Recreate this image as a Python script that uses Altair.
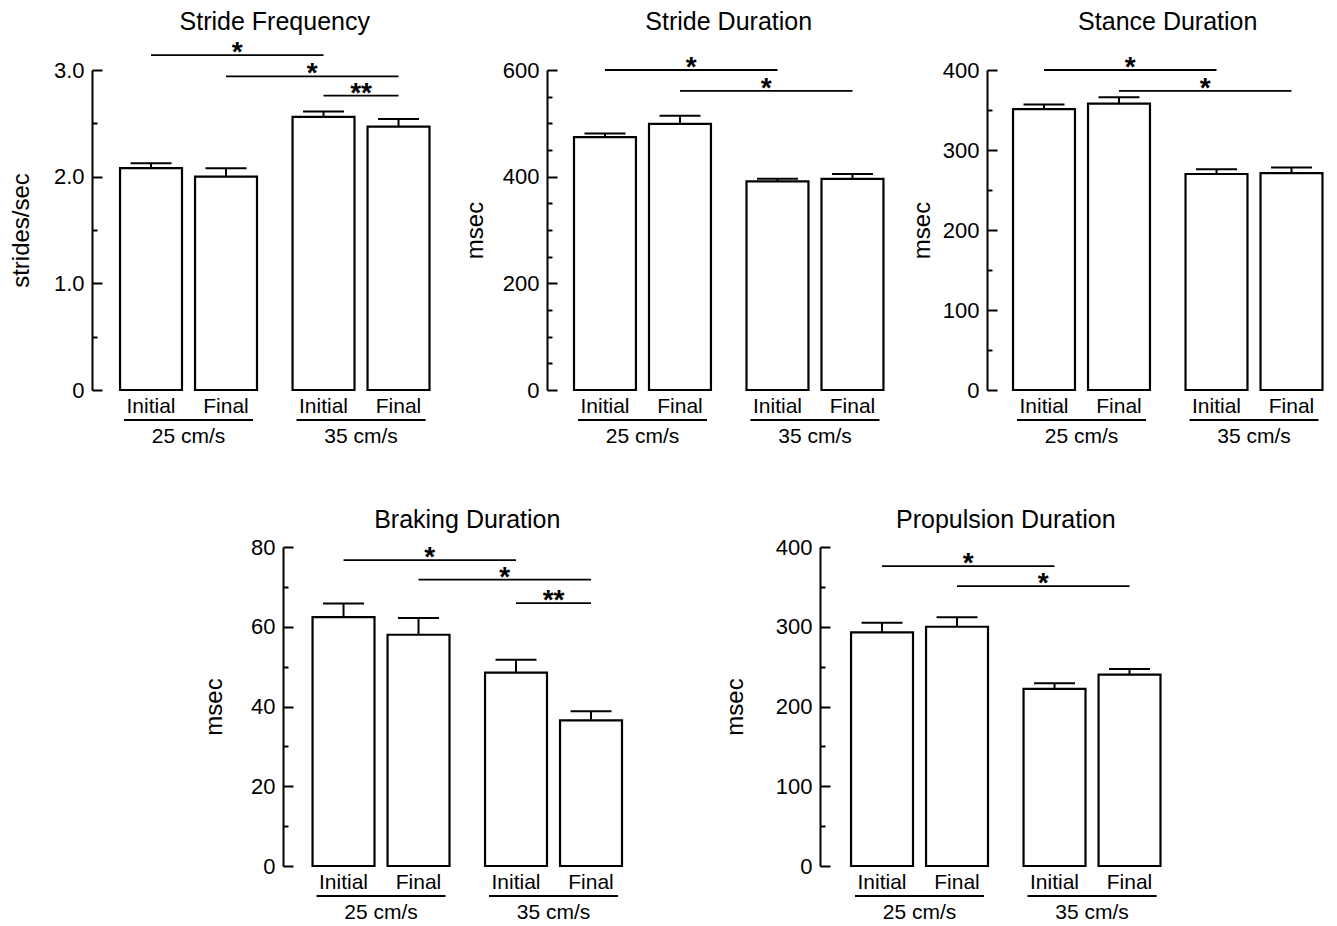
import altair as alt
import pandas as pd

FONT = "Liberation Sans"

# ---------------- data ----------------
SPEEDS = ["25 cm/s", "35 cm/s"]
CONDITIONS = ["Initial", "Final"]

PANEL_TITLES = ["Stride Frequency", "Stride Duration", "Stance Duration",
                "Braking Duration", "Propulsion Duration"]
Y_TITLES = ["strides/sec", "msec", "msec", "msec", "msec"]

# bar order: 25 Initial, 25 Final, 35 Initial, 35 Final
STRIDE_FREQ_MEAN = [2.08, 2.00, 2.56, 2.47]
STRIDE_FREQ_SEM = [0.045, 0.08, 0.05, 0.07]
STRIDE_DUR_MEAN = [474, 499, 391, 396]
STRIDE_DUR_SEM = [7, 15, 5, 9]
STANCE_DUR_MEAN = [351, 358, 270, 271]
STANCE_DUR_SEM = [6, 8, 6, 7]
BRAKING_DUR_MEAN = [62.4, 58.0, 48.5, 36.5]
BRAKING_DUR_SEM = [3.4, 4.2, 3.2, 2.3]
PROPULSION_DUR_MEAN = [293, 300, 222, 240]
PROPULSION_DUR_SEM = [12, 12, 7, 7]

# significance brackets: (from bar, to bar, bracket height, label)
STRIDE_FREQ_SIG = [(0, 2, 3.14, "*"), (1, 3, 2.94, "*"), (2, 3, 2.76, "**")]
STRIDE_DUR_SIG = [(0, 2, 600, "*"), (1, 3, 561, "*")]
STANCE_DUR_SIG = [(0, 2, 400, "*"), (1, 3, 374, "*")]
BRAKING_DUR_SIG = [(0, 2, 76.7, "*"), (1, 3, 71.8, "*"), (2, 3, 65.9, "**")]
PROPULSION_DUR_SIG = [(0, 2, 376, "*"), (1, 3, 351, "*")]

Y_MAX = [3.0, 600, 400, 80, 400]
Y_MAJOR = [1.0, 200, 100, 20, 100]
Y_MINOR = [0.5, 50, 50, 10, 50]

# ---------------- layout ----------------
UNIT_PX = 75          # pixels per bar step
GROUP_STEP = 2.3      # distance between speed groups, in bar steps
X_STARTS = [-0.787, -0.773, -0.76, -0.807, -0.827]
BAR_HALF = 0.413
CAP_HALF = 0.273
UNDERLINE_EXT = 0.36

TOP_W = [395, 380, 340]
TOP_H = 320
BOT_W = [477, 345]
BOT_H = 319
SPACER_W = 131
H_SPACING = 60
V_SPACING = 61
TITLE_YOFF = [-48, -48, -48, -27, -27]
TITLE_PADS = [20, 15, 8, 24, 28]


def tick_values(ymax, step):
    n = int(round(ymax / step))
    return [round(k * step, 6) for k in range(n + 1)]


def make_panel(i, means, sems, sig, width, height, label_expr=None):
    ymax, major, minor = Y_MAX[i], Y_MAJOR[i], Y_MINOR[i]
    x_start = X_STARTS[i]
    pos = [si * GROUP_STEP + ci for si in range(len(SPEEDS)) for ci in range(len(CONDITIONS))]
    bars = pd.DataFrame({
        "speed": [s for s in SPEEDS for _ in CONDITIONS],
        "cond": [c for _ in SPEEDS for c in CONDITIONS],
        "pos": pos,
        "mean": means,
        "sem": sems,
    })
    bars["lo"] = bars["pos"] - BAR_HALF
    bars["hi"] = bars["pos"] + BAR_HALF
    bars["top"] = bars["mean"] + bars["sem"]
    bars["cap_lo"] = bars["pos"] - CAP_HALF
    bars["cap_hi"] = bars["pos"] + CAP_HALF

    groups = bars.groupby("speed", sort=False)["pos"].agg(["min", "max", "mean"]).reset_index()
    groups["ul_lo"] = groups["min"] - UNDERLINE_EXT
    groups["ul_hi"] = groups["max"] + UNDERLINE_EXT
    groups["cx"] = groups["mean"]

    title_df = pd.DataFrame({"title": [PANEL_TITLES[i]], "cx": [bars["pos"].mean()]})

    sig_df = pd.DataFrame({
        "x1": [pos[a] for a, b, lv, t in sig],
        "x2": [pos[b] for a, b, lv, t in sig],
        "level": [lv for a, b, lv, t in sig],
        "label": [t for a, b, lv, t in sig],
    })
    sig_df["xm"] = (sig_df["x1"] + sig_df["x2"]) / 2

    xs = alt.Scale(domain=[x_start, x_start + width / UNIT_PX], nice=False, zero=False)
    ys = alt.Scale(domain=[0, ymax], nice=False, zero=True)

    majors = tick_values(ymax, major)
    all_ticks = tick_values(ymax, minor)

    left_kw = dict(
        orient="left", values=majors, title=Y_TITLES[i], ticks=False, tickSize=0,
        domain=True, domainColor="black", domainWidth=2, grid=False,
        labelFont=FONT, labelFontSize=22, labelColor="black", labelPadding=8,
        titleFont=FONT, titleFontSize=24, titleFontWeight="normal", titleColor="black",
        titlePadding=TITLE_PADS[i], titleBaseline="bottom",
    )
    if label_expr:
        left_kw["labelExpr"] = label_expr
    left_axis = alt.Axis(**left_kw)

    major_test = f"abs(datum.value / {major} - round(datum.value / {major})) < 0.000001"
    right_axis = alt.Axis(
        orient="right", offset=-width, values=all_ticks, labels=False, domain=False,
        ticks=True, tickColor="black", tickWidth=2, grid=False, title=None,
        tickSize={"condition": {"test": major_test, "value": 10}, "value": 5},
    )

    X = lambda f: alt.X(f, scale=xs, axis=None)
    Y0 = alt.YDatum(0, scale=ys, axis=None)
    YTOP = alt.YDatum(ymax, scale=ys, axis=None)

    def txt(size, weight="normal"):
        return dict(font=FONT, fontSize=size, fontWeight=weight, baseline="middle",
                    align="center", color="black")

    base = alt.Chart(bars)
    bar_layer = base.mark_rect(fill="white", stroke="black", strokeWidth=2.2).encode(
        x=X("lo:Q"), x2="hi:Q",
        y=alt.Y("mean:Q", scale=ys, axis=left_axis), y2=alt.Y2Datum(0))
    err_layer = base.mark_rule(color="black", strokeWidth=2).encode(
        x=X("pos:Q"), y=alt.Y("mean:Q", scale=ys, axis=right_axis), y2="top:Q")
    cap_layer = base.mark_rule(color="black", strokeWidth=2).encode(
        x=X("cap_lo:Q"), x2="cap_hi:Q", y=alt.Y("top:Q", scale=ys, axis=None))
    cond_layer = base.mark_text(**txt(21)).encode(
        x=X("pos:Q"), y=Y0, yOffset=alt.value(17), text="cond:N")

    gbase = alt.Chart(groups)
    ul_layer = gbase.mark_rule(color="black", strokeWidth=2).encode(
        x=X("ul_lo:Q"), x2="ul_hi:Q", y=Y0, yOffset=alt.value(30))
    speed_layer = gbase.mark_text(**txt(21)).encode(
        x=X("cx:Q"), y=Y0, yOffset=alt.value(47), text="speed:N")

    sbase = alt.Chart(sig_df)
    sig_layer = sbase.mark_rule(color="black", strokeWidth=1.8).encode(
        x=X("x1:Q"), x2="x2:Q", y=alt.Y("level:Q", scale=ys, axis=None))
    star_layer = sbase.mark_text(**txt(28, "bold")).encode(
        x=X("xm:Q"), y=alt.Y("level:Q", scale=ys, axis=None), yOffset=alt.value(-2),
        text="label:N")

    title_layer = alt.Chart(title_df).mark_text(**txt(25)).encode(
        x=X("cx:Q"), y=YTOP, yOffset=alt.value(TITLE_YOFF[i]), text="title:N")

    return alt.layer(
        bar_layer, err_layer, cap_layer, cond_layer, ul_layer, speed_layer,
        sig_layer, star_layer, title_layer
    ).resolve_axis(y="independent").properties(width=width, height=height)


p1 = make_panel(0, STRIDE_FREQ_MEAN, STRIDE_FREQ_SEM, STRIDE_FREQ_SIG, TOP_W[0], TOP_H,
                label_expr="datum.value == 0 ? '0' : format(datum.value, '.1f')")
p2 = make_panel(1, STRIDE_DUR_MEAN, STRIDE_DUR_SEM, STRIDE_DUR_SIG, TOP_W[1], TOP_H)
p3 = make_panel(2, STANCE_DUR_MEAN, STANCE_DUR_SEM, STANCE_DUR_SIG, TOP_W[2], TOP_H)
p4 = make_panel(3, BRAKING_DUR_MEAN, BRAKING_DUR_SEM, BRAKING_DUR_SIG, BOT_W[0], BOT_H)
p5 = make_panel(4, PROPULSION_DUR_MEAN, PROPULSION_DUR_SEM, PROPULSION_DUR_SIG, BOT_W[1], BOT_H)

spacer = alt.Chart(pd.DataFrame({"v": [0]})).mark_point(opacity=0).encode(
    x=alt.value(0), y=alt.value(0)).properties(width=SPACER_W, height=BOT_H)

top_row = alt.hconcat(p1, p2, p3, spacing=H_SPACING, bounds="flush")
bottom_row = alt.hconcat(spacer, p4, p5, spacing=H_SPACING, bounds="flush")

chart = alt.vconcat(top_row, bottom_row, spacing=V_SPACING).configure_view(
    stroke=None
).properties(
    padding={"left": 1, "top": 2, "right": 0, "bottom": 0},
    background="white",
)

chart.save("out.html", embed_options={"renderer": "svg", "actions": False})
